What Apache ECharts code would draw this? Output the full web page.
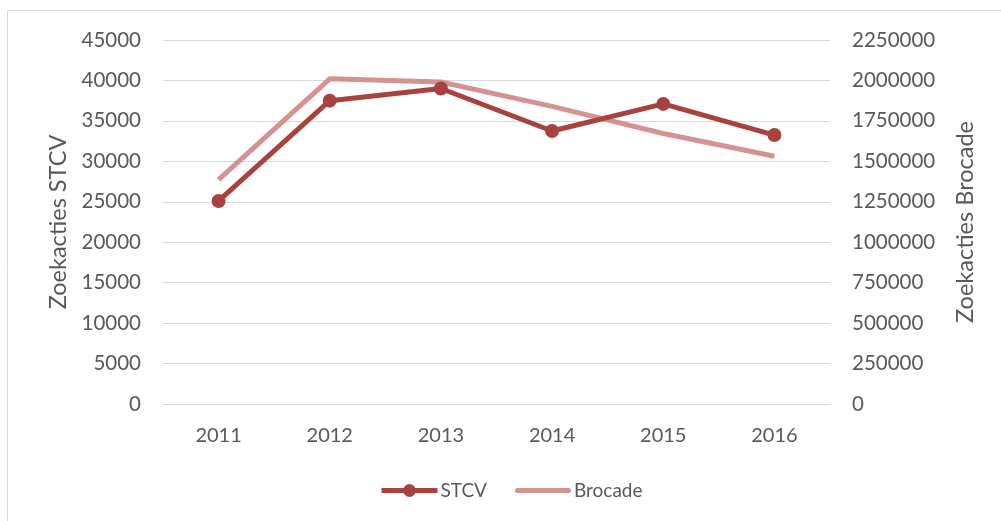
<!DOCTYPE html>
<html>
<head>
<meta charset="utf-8">
<script src="https://cdn.jsdelivr.net/npm/echarts@6/dist/echarts.min.js"></script>
<style>
  html, body { margin: 0; padding: 0; background: #fff; }
  #chart { width: 1001px; height: 521px; }
</style>
</head>
<body>
<div id="chart"></div>
<script>
// 数据
var years = ["2011", "2012", "2013", "2014", "2015", "2016"];
var stcv = [25100, 37500, 39000, 33750, 37100, 33250];
var brocade = [1387000, 2010000, 1990000, 1840000, 1672000, 1531000];

var textColor = "#595959";
var gridColor = "#d9d9d9";
var fontFamily = "Lato, 'Open Sans', sans-serif";

function plain(v) { return String(v); }

var chart = echarts.init(document.getElementById("chart"));

chart.setOption({
    backgroundColor: "#fff",
    animation: false,
    textStyle: { fontFamily: fontFamily },
    graphic: [
        {
            type: "rect",
            shape: { x: 7.5, y: 10.5, width: 1100, height: 600 },
            style: { fill: "none", stroke: gridColor, lineWidth: 1 },
            silent: true,
        },
    ],
    grid: { left: 163, right: 171, top: 40, bottom: 117 },
    legend: {
        top: 476,
        left: 374,
        itemWidth: 56,
        itemHeight: 16,
        itemGap: 28,
        lineStyle: { width: 5 },
        textStyle: { color: textColor, fontSize: 19, fontFamily: fontFamily, padding: [0, 0, 0, -2] },
        data: [
            "STCV",
            // Brocade 图例只画线，不画圆点
            { name: "Brocade", icon: "path://M2.5,0 L53.5,0 A2.5,2.5 0 0 1 53.5,5 L2.5,5 A2.5,2.5 0 0 1 2.5,0 Z" },
        ],
    },
    xAxis: {
        type: "category",
        data: years,
        axisLine: { lineStyle: { color: gridColor, width: 1 } },
        axisTick: { show: false },
        axisLabel: { color: textColor, fontSize: 20, margin: 22 },
    },
    yAxis: [
        {
            type: "value",
            min: 0, max: 45000, interval: 5000,
            name: "Zoekacties STCV",
            nameLocation: "middle",
            nameGap: 87,
            nameTextStyle: { color: textColor, fontSize: 23.5, fontFamily: fontFamily },
            axisLine: { show: false },
            axisTick: { show: false },
            axisLabel: { color: textColor, fontSize: 20.5, margin: 22, formatter: plain },
            splitLine: { lineStyle: { color: gridColor, width: 1 } },
        },
        {
            type: "value",
            min: 0, max: 2250000, interval: 250000,
            name: "Zoekacties Brocade",
            nameLocation: "middle",
            nameGap: 123,
            nameRotate: 90,
            nameTextStyle: { color: textColor, fontSize: 23.5, fontFamily: fontFamily },
            axisLine: { show: false },
            axisTick: { show: false },
            axisLabel: { color: textColor, fontSize: 20.5, margin: 22, formatter: plain },
            splitLine: { show: false },
        },
    ],
    series: [
        {
            name: "STCV",
            type: "line",
            yAxisIndex: 0,
            data: stcv,
            symbol: "circle",
            symbolSize: 14,
            itemStyle: { color: "#a9423f" },
            lineStyle: { color: "#a9423f", width: 5 },
            z: 3,
        },
        {
            name: "Brocade",
            type: "line",
            yAxisIndex: 1,
            data: brocade,
            symbol: "none",
            itemStyle: { color: "#d49390" },
            lineStyle: { color: "#d49390", width: 5 },
            z: 2,
        },
    ],
});
</script>
</body>
</html>
